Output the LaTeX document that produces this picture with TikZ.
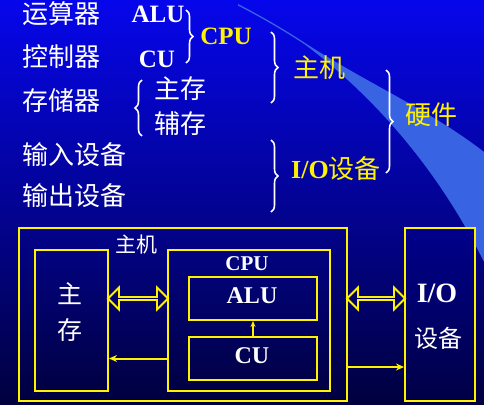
\documentclass[tikz,border=0pt]{standalone}
\usepackage{fontspec}
\setmainfont{Liberation Serif}
\newfontfamily\cjk{Noto Sans CJK SC}
\usetikzlibrary{decorations.pathreplacing,shapes.arrows,arrows.meta}
\definecolor{bgtop}{RGB}{6,6,236}
\definecolor{bgbot}{RGB}{0,0,62}
\definecolor{sweep}{RGB}{56,100,228}
\definecolor{iotop}{RGB}{0,0,140}
\definecolor{iobot}{RGB}{0,0,70}
\tikzset{
  zh/.style={text=white,inner sep=0pt,font={\cjk\fontsize{26}{30}\selectfont}},
  en/.style={text=white,inner sep=0pt,anchor=base,font={\rmfamily\bfseries\fontsize{25}{30}\selectfont}},
  brc/.style={draw=white,line width=1.6pt,decorate,decoration={brace,amplitude=7pt}},
  box/.style={draw=yellow,line width=2pt,inner sep=0pt,anchor=north west},
  dbl/.style={double arrow,draw=yellow,line width=1.8pt,inner sep=0pt,minimum width=22pt,double arrow head extend=6pt},
  lnk/.style={yellow,line width=2pt,-{Stealth[length=8pt,width=7pt]}}
}
\begin{document}
\begin{tikzpicture}[x=1pt,y=-1pt]
  \useasboundingbox (0,0) rectangle (484,404);
  \shade[shading angle=40,top color=bgtop,bottom color=bgbot] (0,0) rectangle (484,404);
  \fill[sweep] (238,4) .. controls (265,18) and (285,30) .. (305,43) .. controls (370,85) and (430,110) .. (484,152) -- (484,262) .. controls (455,203) and (400,116) .. (305,44.5) .. controls (285,31.5) and (265,19.5) .. (238,5.5) -- cycle;

  \node[zh] (ysq) at (61,14) {运算器};
  \node[zh] (kzq) at (61,57) {控制器};
  \node[zh] (ccq) at (61,101) {存储器};
  \node[zh] (srsb) at (74,155) {输入设备};
  \node[zh] (scsb) at (74,196) {输出设备};
  \node[en] (alut) at (158,23) {ALU};
  \node[en] (cut) at (157,67) {CU};
  \node[zh] (zc) at (180,89) {主存};
  \node[zh] (fc) at (180,124) {辅存};
  \node[en,text=yellow] (cput) at (226,45) {CPU};
  \node[zh,text=yellow] (zj) at (319,68) {主机};
  \node[zh,text=yellow] (iosb) at (336,169) {{\rmfamily\bfseries I/O}设备};
  \node[zh,text=yellow] (yj) at (431,115) {硬件};
  \draw[brc] (186,10) -- (186,63);
  \draw[brc] (142,136) -- (142,80);
  \draw[brc] (271,32) -- (271,103);
  \draw[brc] (271,140) -- (271,212);
  \draw[brc] (386,70) -- (386,173);

  \node[box,minimum width=328pt,minimum height=173pt] (host) at (18,227) {};
  \node[box,minimum width=73pt,minimum height=141pt] (mem) at (34,249) {};
  \node[box,minimum width=162pt,minimum height=141pt] (cpu) at (167,249) {};
  \node[box,minimum width=128pt,minimum height=43pt] (alu) at (188,276) {};
  \node[box,minimum width=128pt,minimum height=43pt] (cu) at (188,336) {};
  \node[box,minimum width=70pt,minimum height=173pt,top color=iotop,bottom color=iobot] (io) at (404,227) {};
  \node[zh,font={\cjk\fontsize{21}{24}\selectfont}] (hostl) at (136,245) {主机};
  \node[zh,font={\cjk\fontsize{25}{28}\selectfont}] (meml1) at (70,294) {主};
  \node[zh,font={\cjk\fontsize{25}{28}\selectfont}] (meml2) at (70,330) {存};
  \node[en,font={\rmfamily\bfseries\fontsize{21}{24}\selectfont}] (cpul) at (247,270) {CPU};
  \node[en,font={\rmfamily\bfseries\fontsize{24}{28}\selectfont}] (alul) at (252,303) {ALU};
  \node[en,font={\rmfamily\bfseries\fontsize{24}{28}\selectfont}] (cul) at (252,363) {CU};
  \node[en,font={\rmfamily\bfseries\fontsize{28}{32}\selectfont}] (iol1) at (437,302) {I/O};
  \node[zh,font={\cjk\fontsize{24}{28}\selectfont}] (iol2) at (438,338) {设备};

  \path (mem.east |- alu) -- (cpu.west |- alu) node[midway,dbl,minimum height=60pt] (da) {};
  \path (host.east |- alu) -- (io.west |- alu) node[midway,dbl,minimum height=58pt] (db) {};
  \draw[lnk] (cpu.west |- cu) -- (mem.east |- cu);
  \draw[lnk] (host.east |- 0,367) -- (io.west |- 0,367);
  \draw[yellow,line width=1.2pt,-{Stealth[length=6pt,width=5pt]}] (cu.north) -- (alu.south);
\end{tikzpicture}
\end{document}
